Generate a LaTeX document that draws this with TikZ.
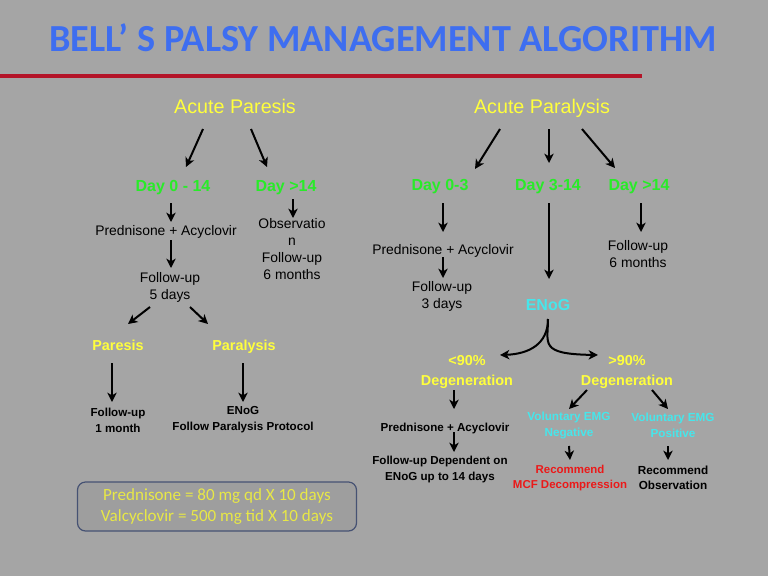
\documentclass[tikz,border=0pt]{standalone}
\usepackage{fontspec}
\setmainfont{Liberation Sans}
\newfontfamily\titlefont{Carlito}
\usetikzlibrary{arrows.meta,calc}
\definecolor{bgc}{RGB}{165,165,165}
\definecolor{titleblue}{RGB}{62,110,240}
\definecolor{redline}{RGB}{180,20,40}
\definecolor{yelc}{RGB}{255,255,60}
\definecolor{grnc}{RGB}{40,235,40}
\definecolor{cyanc}{RGB}{70,230,235}
\definecolor{redc}{RGB}{235,25,25}
\definecolor{boxtext}{RGB}{232,232,70}
\definecolor{boxline}{RGB}{70,82,115}
\newcommand{\fsz}[2]{\fontsize{#1}{#2}\selectfont}
\begin{document}
\begin{tikzpicture}[x=0.75pt,y=-0.75pt,
  every node/.style={inner sep=1pt, align=center},
  oneline/.style={text height=0.8em, text depth=0.08em},
  arr/.style={-{Stealth[length=7pt,width=7pt,inset=2pt]}, line width=1.5pt, black},
  headA/.style={text=yelc, font=\fsz{14.8}{17}, oneline},
  daylbl/.style={text=grnc, font=\bfseries\fsz{12}{14}, oneline},
  blk/.style={text=black, font=\fsz{10.4}{12.75}},
  blkb/.style={text=black, font=\bfseries\fsz{8.7}{12}},
  yb/.style={text=yelc, font=\bfseries\fsz{10.8}{15}},
  cyb/.style={text=cyanc, font=\bfseries\fsz{8.8}{12}},
  redb/.style={text=redc, font=\bfseries\fsz{8.6}{11.25}},
  blkr/.style={text=black, font=\bfseries\fsz{8.8}{11.25}}]
\fill[bgc] (0,0) rectangle (768,576);
\useasboundingbox (0,0) rectangle (768,576);

% title
\node[text=titleblue, font=\titlefont\bfseries\fsz{28.7}{34}] (title) at (383,38) {BELL’ S PALSY MANAGEMENT ALGORITHM};
\draw[redline, line width=3pt] (0,76) -- (642,76);

% left branch
\node[headA] (ap) at (235,109) {Acute Paresis};
\node[daylbl] (d014) at (173,187) {Day 0 - 14};
\node[daylbl] (d14a) at (286,187) {Day >14};
\node[blk, oneline] (pa1) at (166,231) {Prednisone + Acyclovir};
\node[blk] (fu5) at (170,287) {Follow-up\\5 days};
\node[blk] (obs) at (292,249) {Observatio\\n\\Follow-up\\6 months};
\node[yb, oneline] (par) at (118,346) {Paresis};
\node[yb, oneline] (paral) at (244,346) {Paralysis};
\node[blkb] (fu1) at (118,420) {Follow-up\\1 month};
\node[blkb] (enog1) at (243,420) {ENoG\\Follow Paralysis Protocol};

\draw[arr] ($(ap)+(-32,20)$) -- ($(d014)+(13,-20)$);
\draw[arr] ($(ap)+(16,20)$) -- ($(d14a)+(-19,-20)$);
\draw[arr] ($(d014)+(-2,16)$) -- ($(pa1)+(5,-9)$);
\draw[arr] ($(pa1)+(5,9)$) -- ($(fu5)+(1,-19)$);
\draw[arr] ($(d14a)+(7,12)$) -- ($(obs)+(1,-31)$);
\draw[arr] ($(fu5)+(-20,20)$) -- ($(par)+(10,-22)$);
\draw[arr] ($(fu5)+(20,20)$) -- ($(paral)+(-36,-22)$);
\draw[arr] ($(par)+(-6,17)$) -- ($(fu1)+(-6,-18)$);
\draw[arr] ($(paral)+(-1,17)$) -- ($(enog1)+(0,-18)$);

% right branch
\node[headA] (apl) at (542,109) {Acute Paralysis};
\node[daylbl] (d03) at (440,186) {Day 0-3};
\node[daylbl] (d314) at (548,186) {Day 3-14};
\node[daylbl] (d14b) at (639,186) {Day >14};
\node[blk, oneline] (pa2) at (443,250) {Prednisone + Acyclovir};
\node[blk] (fu3) at (442,296) {Follow-up\\3 days};
\node[blk] (fu6) at (638,254) {Follow-up\\6 months};
\node[text=cyanc, font=\bfseries\fsz{12}{14}, oneline] (enog) at (548,306) {ENoG};
\node[yb] (lt90) at (467,372) {<90\%\\Degeneration};
\node[yb] (gt90) at (627,372) {>90\%\\Degeneration};
\node[blkb, oneline] (pa3) at (445,427) {Prednisone + Acyclovir};
\node[blkb] (fud) at (440,469) {Follow-up Dependent on\\ENoG up to 14 days};
\node[cyb] (vneg) at (569,425) {Voluntary EMG\\Negative};
\node[cyb] (vpos) at (673,425) {Voluntary EMG\\Positive};
\node[redb] (rmcf) at (570,478) {Recommend\\MCF Decompression};
\node[blkr] (robs) at (673,478) {Recommend\\Observation};

\draw[arr] ($(apl)+(-42,20)$) -- ($(d03)+(35,-17)$);
\draw[arr] ($(apl)+(7,20)$) -- ($(d314)+(1,-23)$);
\draw[arr] ($(apl)+(40,20)$) -- ($(d14b)+(-24,-18)$);
\draw[arr] ($(d03)+(3,17)$) -- ($(pa2)+(0,-18)$);
\draw[arr] ($(pa2)+(0,7)$) -- ($(fu3)+(1,-18)$);
\draw[arr] ($(d314)+(1,17)$) -- ($(enog)+(1,-27)$);
\draw[arr] ($(d14b)+(2,17)$) -- ($(fu6)+(3,-22)$);
\draw[arr] ($(enog)+(0,13)$) .. controls ($(enog)+(0,38)$) and ($(lt90)+(62,-18)$) .. ($(lt90)+(33,-17)$);
\draw[arr] ($(enog)+(0,13)$) .. controls ($(enog)+(0,38)$) and ($(gt90)+(-88,-18)$) .. ($(gt90)+(-29,-17)$);
\draw[arr] ($(lt90)+(-13,18)$) -- ($(pa3)+(9,-18)$);
\draw[arr] ($(pa3)+(9,5)$) -- ($(fud)+(14,-17)$);
\draw[arr] ($(gt90)+(-40,18)$) -- ($(vneg)+(0,-16)$);
\draw[arr] ($(gt90)+(25,18)$) -- ($(vpos)+(-5,-16)$);
\draw[arr] ($(vneg)+(0,21)$) -- ($(rmcf)+(0,-18)$);
\draw[arr] ($(vpos)+(-5,21)$) -- ($(robs)+(-5,-18)$);

% dosage box
\node[draw=boxline, line width=0.9pt, rounded corners=6pt, fill=bgc!96!black,
      minimum width=279*0.75pt, minimum height=49*0.75pt,
      text=boxtext, font=\titlefont\fsz{12.8}{15.75}] (dose) at (217,506.5)
  {Prednisone = 80 mg qd X 10 days\\Valcyclovir = 500 mg tid X 10 days};
\end{tikzpicture}
\end{document}
